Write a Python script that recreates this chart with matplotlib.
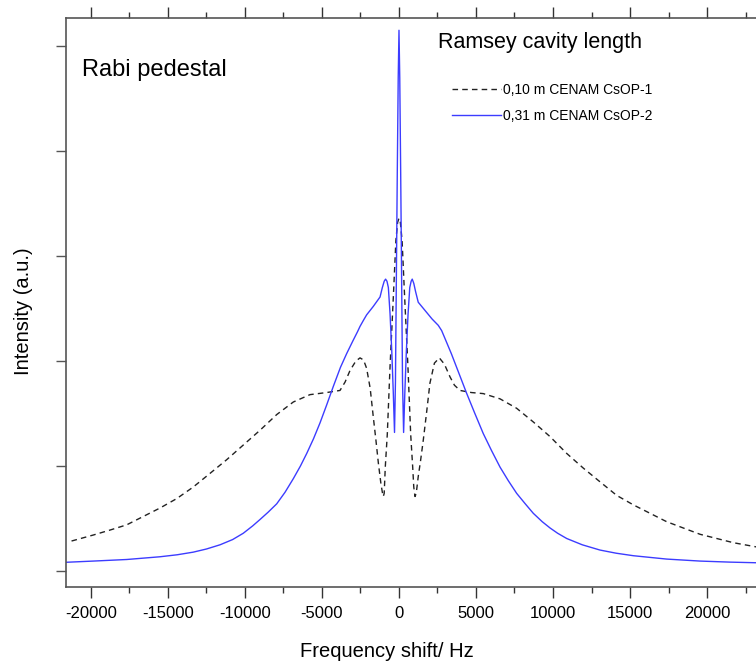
import matplotlib
matplotlib.use("Agg")
import matplotlib.pyplot as plt
from matplotlib.ticker import MultipleLocator, NullFormatter

plt.rcParams['font.family'] = ['Liberation Sans', 'DejaVu Sans']
plt.rcParams['axes.unicode_minus'] = False

# 0,10 m cavity (CsOP-1), dashed black
hz_010 = [-21260, -19850, -18770, -17680, -16600, -15520, -14430, -13360, -12270,
          -11190, -10110, -9030, -7940, -6860, -5780, -4700, -3830, -3500, -3180,
          -2800, -2530, -2300, -2100, -1870, -1670, -1500, -1340, -1180, -1080,
          -1020, -960, -890, -760, -580, -370, -200, -90, 0,
          90, 200, 370, 580, 760, 890, 960, 1040, 1120, 1250, 1400, 1580, 1800,
          2010, 2300, 2620, 2950, 3310, 3600, 3960, 4700, 5470, 6560, 7640, 8720,
          9810, 10890, 11970, 13050, 14140, 15220, 16300, 17380, 18460, 19550,
          20630, 21710, 23200]
int_010 = [0.286, 0.343, 0.39, 0.44, 0.52, 0.60, 0.69, 0.80, 0.93,
           1.06, 1.20, 1.34, 1.49, 1.61, 1.68, 1.70, 1.72, 1.80, 1.91,
           2.00, 2.03, 2.01, 1.93, 1.74, 1.47, 1.25, 1.03, 0.84, 0.75,
           0.71, 0.74, 0.99, 1.30, 1.95, 2.60, 3.15, 3.32, 3.36,
           3.32, 3.15, 2.60, 1.95, 1.30, 0.99, 0.80, 0.71, 0.74, 0.90, 1.05, 1.25, 1.52,
           1.79, 1.98, 2.03, 1.97, 1.85, 1.77, 1.72, 1.70, 1.69, 1.64, 1.55, 1.42,
           1.28, 1.12, 0.98, 0.85, 0.72, 0.63, 0.55, 0.47, 0.41, 0.35,
           0.31, 0.27, 0.23]

# 0,31 m cavity (CsOP-2), solid blue
hz_031 = [-21690, -19850, -17680, -15520, -14400, -13360, -12500, -11620, -10800,
          -10110, -9500, -9030, -8500, -7940, -7400, -6860, -6400, -5990, -5550,
          -5130, -4700, -4260, -3800, -3400, -3000, -2690, -2530, -2300, -2100, -1670,
          -1230, -1080, -960, -870, -780, -690, -580, -470, -370, -290,
          -230, -170, -110, -50, 0, 50, 110, 170, 230, 300,
          380, 480, 590, 700, 790, 860, 960, 1080, 1250, 1700, 2150, 2550,
          2770, 3000, 3400, 3900, 4400, 4900, 5470, 6000, 6560, 7100, 7640, 8200, 8720,
          9300, 9810, 10300, 10890, 11900, 13050, 14100, 15220, 17380, 19550, 21500, 23200]
int_031 = [0.083, 0.095, 0.11, 0.136, 0.155, 0.18, 0.21, 0.25, 0.30,
           0.36, 0.43, 0.49, 0.56, 0.64, 0.75, 0.88, 1.00, 1.12, 1.26,
           1.41, 1.58, 1.76, 1.94, 2.07, 2.19, 2.28, 2.33, 2.39, 2.44, 2.52,
           2.61, 2.70, 2.76, 2.78, 2.76, 2.70, 2.45, 2.10, 1.70, 1.32,
           1.80, 2.80, 3.80, 4.70, 5.15, 4.70, 3.80, 2.80, 1.80, 1.32,
           1.70, 2.10, 2.45, 2.70, 2.76, 2.78, 2.74, 2.66, 2.56, 2.48, 2.40, 2.34,
           2.29, 2.21, 2.07, 1.88, 1.69, 1.51, 1.31, 1.15, 0.99, 0.86, 0.74, 0.64, 0.55,
           0.47, 0.41, 0.36, 0.31, 0.25, 0.20, 0.17, 0.146, 0.114, 0.095, 0.085, 0.079]

fig = plt.figure(figsize=(7.56, 6.66), dpi=100)
ax = fig.add_axes([0.0873, 0.1186, 0.9127, 0.8544])

ax.plot(hz_010, int_010, color='#222222', lw=1.0, ls=(0, (4, 3)),
        label='0,10 m CENAM CsOP-1')
ax.plot(hz_031, int_031, color='#3c3cff', lw=1.0,
        label='0,31 m CENAM CsOP-2')

ax.set_xlim(-21620, 23180)
ax.set_ylim(-0.152, 5.267)

ax.xaxis.set_major_locator(MultipleLocator(5000))
ax.xaxis.set_minor_locator(MultipleLocator(2500))
ax.yaxis.set_major_locator(MultipleLocator(1))
ax.yaxis.set_major_formatter(NullFormatter())
ax.tick_params(axis='x', which='both', direction='out', top=True, labeltop=False,
               labelsize=12, colors='#333333', pad=5.5)
ax.tick_params(axis='x', which='major', length=8, width=1)
ax.tick_params(axis='x', which='minor', length=4.5, width=1)
ax.tick_params(axis='y', which='major', direction='out', length=7, width=1,
               colors='#555555')
ax.tick_params(axis='x', labelcolor='black')

ax.spines['right'].set_visible(False)
for s in ['left', 'top', 'bottom']:
    ax.spines[s].set_color('#555555')
    ax.spines[s].set_linewidth(1.2)

# axis labels placed by hand (pixel offsets from the axes frame)
ax_w = 0.9127 * 756
ax_h = 0.8544 * 666
ax.set_xlabel('Frequency shift/ Hz', fontsize=14.5)
ax.xaxis.set_label_coords((386.5 - 66) / ax_w, -(642 - 587) / ax_h)
ax.set_ylabel('Intensity (a.u.)', fontsize=14.5)
ax.yaxis.set_label_coords(-(66 - 33) / ax_w, (587 - 311) / ax_h)

fig.text(82 / 756, 1 - 76 / 666, 'Rabi pedestal', fontsize=17, va='baseline')
fig.text(438 / 756, 1 - 48 / 666, 'Ramsey cavity length', fontsize=15.5, va='baseline')

fig.legend(loc='upper left', bbox_to_anchor=(452 / 756, 1 - 83 / 666),
           frameon=False, fontsize=10, handlelength=3.5, handletextpad=0.2,
           labelspacing=0.85, borderaxespad=0, borderpad=0)

fig.savefig('out.png', dpi=100)
